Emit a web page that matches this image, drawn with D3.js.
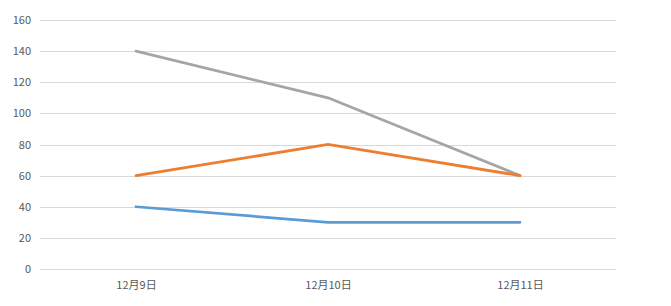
<!DOCTYPE html>
<html>
<head>
<meta charset="utf-8">
<script src="https://cdn.jsdelivr.net/npm/d3@7"></script>
<style>
  body { margin: 0; background: #fff; }
  text { font-family: "Noto Sans CJK SC", "Noto Sans", sans-serif; font-size: 11px; fill: #595959; }
</style>
</head>
<body>
<script>
// Data
const dates = ["12月9日", "12月10日", "12月11日"];
const blueValues = [40, 30, 30];
const orangeValues = [60, 80, 60];
const grayValues = [140, 110, 60];
const yTicks = [0, 20, 40, 60, 80, 100, 120, 140, 160];

const width = 671;
const height = 306;
const margin = {top: 20, right: 55, bottom: 37, left: 40};

const svg = d3.select("body")
  .append("svg")
  .attr("width", width)
  .attr("height", height);

const x = d3.scalePoint()
  .domain(dates)
  .range([margin.left, width - margin.right])
  .padding(0.5);

const y = d3.scaleLinear()
  .domain([0, 160])
  .range([height - margin.bottom, margin.top]);

// gridlines
svg.append("g")
  .selectAll("line")
  .data(yTicks)
  .enter()
  .append("line")
  .attr("x1", margin.left)
  .attr("x2", width - margin.right)
  .attr("y1", d => Math.round(y(d)) + 0.5)
  .attr("y2", d => Math.round(y(d)) + 0.5)
  .attr("stroke", "#d9d9d9")
  .attr("stroke-width", 1);

// y axis labels
const yAxis = svg.append("g")
  .attr("transform", `translate(${margin.left - 9},0)`)
  .call(d3.axisLeft(y).tickValues(yTicks).tickSize(0).tickPadding(0));
yAxis.select(".domain").remove();

// x axis labels
const xAxis = svg.append("g")
  .attr("transform", `translate(0,${height - margin.bottom + 10})`)
  .call(d3.axisBottom(x).tickSize(0).tickPadding(0));
xAxis.select(".domain").remove();
xAxis.selectAll("text").attr("dy", "0.9em");

svg.selectAll(".tick text").attr("fill", "#595959").style("font-size", "11px");

const line = d3.line()
  .x((d, i) => x(dates[i]))
  .y(d => y(d));

const series = [
  {values: grayValues, color: "#A5A5A5"},
  {values: orangeValues, color: "#ED7D31"},
  {values: blueValues, color: "#5B9BD5"}
];

svg.selectAll("path.series")
  .data(series)
  .enter()
  .append("path")
  .attr("class", "series")
  .attr("d", d => line(d.values))
  .attr("fill", "none")
  .attr("stroke", d => d.color)
  .attr("stroke-width", 2.75)
  .attr("stroke-linecap", "round");
</script>
</body>
</html>
